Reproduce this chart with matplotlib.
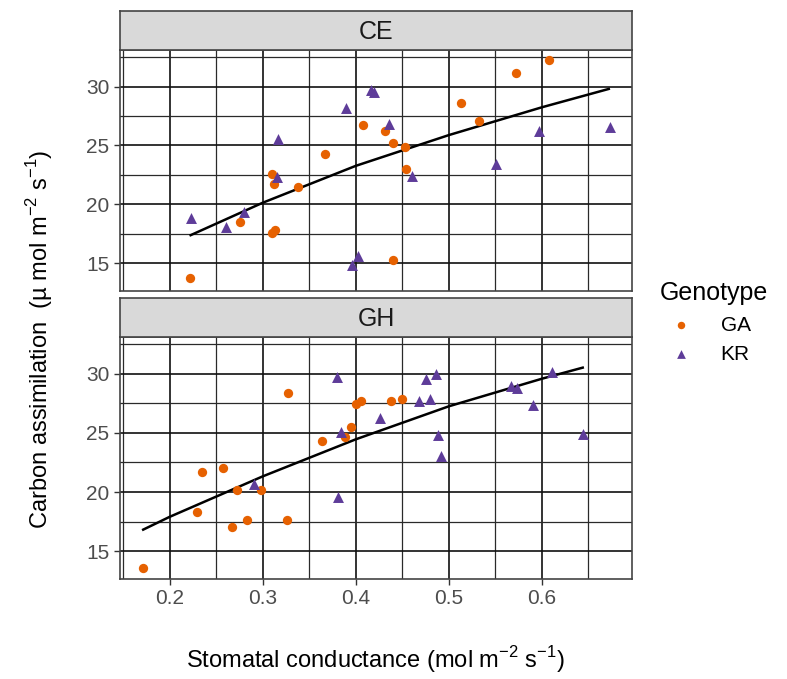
import numpy as np
import matplotlib.pyplot as plt
from matplotlib.ticker import MultipleLocator

plt.rcParams['font.family'] = ['Liberation Sans', 'DejaVu Sans']
plt.rcParams['mathtext.fontset'] = 'custom'
plt.rcParams['mathtext.rm'] = 'Liberation Sans'

# CE panel
ce_ga_x = [0.2215, 0.2753, 0.310, 0.3117, 0.310, 0.3128, 0.338, 0.367, 0.408, 0.431,
           0.440, 0.4525, 0.4536, 0.440, 0.513, 0.532, 0.572, 0.608]
ce_ga_y = [13.72, 18.47, 22.61, 21.70, 17.58, 17.81, 21.45, 24.32, 26.70, 26.25,
           25.23, 24.83, 23.04, 15.31, 28.61, 27.05, 31.11, 32.22]
ce_kr_x = [0.2226, 0.2608, 0.280, 0.3154, 0.3161, 0.3892, 0.4163, 0.4195, 0.4355,
           0.460, 0.3965, 0.402, 0.551, 0.5967, 0.673]
ce_kr_y = [18.81, 18.07, 19.35, 22.33, 25.54, 28.21, 29.70, 29.58, 26.82,
           22.41, 14.86, 15.60, 23.41, 26.19, 26.56]
ce_fit_x = [0.2226, 0.3, 0.4, 0.5, 0.6, 0.672]
ce_fit_y = [17.39, 20.14, 23.27, 25.88, 28.24, 29.80]

# GH panel
gh_ga_x = [0.1716, 0.2295, 0.2353, 0.2575, 0.267, 0.2728, 0.2833, 0.2983, 0.3266,
           0.3277, 0.3641, 0.3881, 0.3954, 0.400, 0.4052, 0.4384, 0.4493]
gh_ga_y = [13.55, 18.30, 21.69, 22.03, 17.08, 20.15, 17.67, 20.15, 17.67,
           28.35, 24.34, 24.65, 25.50, 27.41, 27.72, 27.69, 27.89]
gh_kr_x = [0.291, 0.3794, 0.3809, 0.3845, 0.4256, 0.4682, 0.4795, 0.4751, 0.4864,
           0.4882, 0.4922, 0.5664, 0.5737, 0.5905, 0.6109, 0.6443]
gh_kr_y = [20.66, 29.69, 19.55, 25.08, 26.27, 27.67, 27.87, 29.57, 30.00,
           24.82, 23.03, 29.00, 28.78, 27.32, 30.17, 24.90]
gh_fit_x = [0.1716, 0.2, 0.3, 0.4, 0.5, 0.6, 0.644]
gh_fit_y = [16.82, 17.90, 21.32, 24.45, 27.24, 29.57, 30.51]

ORANGE = '#E66101'
PURPLE = '#5E3C99'

fig = plt.figure(figsize=(7.87, 6.79), dpi=100)

panels = [
    ('CE', 0.5714, 0.3549, 0.9264, ce_ga_x, ce_ga_y, ce_kr_x, ce_kr_y, ce_fit_x, ce_fit_y),
    ('GH', 0.1473, 0.3564, 0.5037, gh_ga_x, gh_ga_y, gh_kr_x, gh_kr_y, gh_fit_x, gh_fit_y),
]
left, width = 0.1525, 0.6506

axes = []
for name, bottom, height, sbottom, gx, gy, kx, ky, fx, fy in panels:
    ax = fig.add_axes([left, bottom, width, height])
    ax.set_xlim(0.1467, 0.697)
    ax.set_ylim(12.65, 33.1)
    ax.xaxis.set_major_locator(MultipleLocator(0.1))
    ax.xaxis.set_minor_locator(MultipleLocator(0.05))
    ax.yaxis.set_major_locator(MultipleLocator(5))
    ax.yaxis.set_minor_locator(MultipleLocator(2.5))
    ax.grid(which='major', color='#111111', lw=1.2)
    ax.grid(which='minor', color='#2a2a2a', lw=0.9)
    ax.set_axisbelow(True)
    for s in ax.spines.values():
        s.set_color('#444444')
        s.set_linewidth(1.2)
    ax.tick_params(which='minor', length=0)
    ax.tick_params(which='major', length=4, color='#333333', labelsize=15,
                   labelcolor='#4D4D4D', width=1.0)
    ax.plot(fx, fy, color='black', lw=1.8, zorder=3)
    ax.scatter(gx, gy, s=45, marker='o', color=ORANGE, lw=0, zorder=4, label='GA')
    ax.scatter(kx, ky, s=62, marker='^', color=PURPLE, lw=0, zorder=4, label='KR')

    sax = fig.add_axes([left, sbottom, width, 0.0574])
    sax.set_facecolor('#D9D9D9')
    sax.set_xticks([])
    sax.set_yticks([])
    for s in sax.spines.values():
        s.set_color('#444444')
        s.set_linewidth(1.2)
    sax.text(0.5, 0.47, name, ha='center', va='center', fontsize=18, color='#1A1A1A',
             transform=sax.transAxes)
    axes.append(ax)

axes[0].tick_params(axis='x', which='both', length=0, labelbottom=False)

fig.text(0.4775, 0.028, r'Stomatal conductance (mol m$^{-2}$ s$^{-1}$)', ha='center',
         va='center', fontsize=17)
fig.text(0.05, 0.5, 'Carbon assimilation  (µ mol m$^{-2}$ s$^{-1}$)', ha='center',
         va='center', rotation=90, fontsize=17)

handles, labels = axes[1].get_legend_handles_labels()
leg = fig.legend(handles, labels, title='Genotype', loc='center left',
                 bbox_to_anchor=(0.815, 0.525), frameon=False, fontsize=15,
                 title_fontsize=18, handletextpad=0.9, labelspacing=0.5,
                 markerscale=0.8)
leg._legend_box.align = 'left'

fig.savefig('out.png', dpi=100)
